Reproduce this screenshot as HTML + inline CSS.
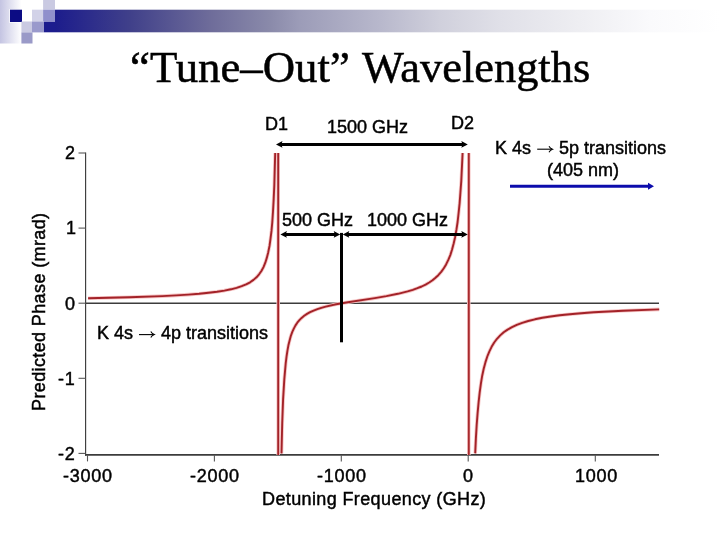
<!DOCTYPE html>
<html><head><meta charset="utf-8">
<style>
html,body{margin:0;padding:0;background:#fff;}
body{width:720px;height:540px;position:relative;overflow:hidden;font-family:"Liberation Sans",sans-serif;color:#000;}
.a{will-change:transform;position:absolute;white-space:nowrap;line-height:1;font-size:18px;-webkit-text-stroke:0.45px #000;}
.tk{letter-spacing:0.75px;}
.title{font-family:"Liberation Serif",serif;font-size:44.8px;left:129.9px;top:45px;-webkit-text-stroke:0.5px #000;}
</style></head><body>
<svg width="720" height="540" style="position:absolute;left:0;top:0">
<defs>
<linearGradient id="bar" gradientUnits="userSpaceOnUse" x1="55" x2="720" y1="0" y2="0">
<stop offset="0" stop-color="#1c1c8c"/>
<stop offset="0.113" stop-color="#40408a"/>
<stop offset="0.233" stop-color="#6e6c9a"/>
<stop offset="0.323" stop-color="#8a8aaa"/>
<stop offset="0.368" stop-color="#9c9cb8"/>
<stop offset="0.489" stop-color="#b8b8cc"/>
<stop offset="0.579" stop-color="#d0d0dc"/>
<stop offset="0.669" stop-color="#e0e0e8"/>
<stop offset="0.789" stop-color="#eeeef2"/>
<stop offset="0.895" stop-color="#fafafc"/>
<stop offset="1" stop-color="#ffffff"/>
</linearGradient>
<linearGradient id="lg" x1="0" x2="1" y1="0" y2="0">
<stop offset="0" stop-color="#c4c4e2"/>
<stop offset="1" stop-color="#ffffff"/>
</linearGradient>
</defs>
<rect x="0" y="0" width="21.5" height="43.5" fill="url(#lg)"/>
<rect x="55" y="9.7" width="665" height="22.6" fill="url(#bar)"/>
<rect x="44" y="21.5" width="11" height="10.8" fill="#1c1c8e"/>
<rect x="9" y="9" width="14" height="14" fill="#fff" opacity="0.6"/>
<rect x="10" y="9.7" width="12" height="12.3" fill="#0c0c84"/>
<rect x="43.1" y="0" width="11.9" height="9.7" fill="#cacae2"/>
<rect x="32" y="9.7" width="11.1" height="11.8" fill="#d2d2e8"/>
<rect x="43.1" y="9.7" width="11.9" height="11.8" fill="#9090cc"/>
<rect x="21.4" y="21.5" width="10.6" height="10.9" fill="#cacae2"/>
<rect x="32" y="21.5" width="12" height="10.9" fill="#9a9acc"/>
<rect x="21.4" y="32.4" width="11.1" height="11.1" fill="#9a9ac8"/>

<!-- axes -->
<g stroke="#3c3c3c" fill="none">
<line x1="85.6" y1="152.5" x2="85.6" y2="455.8" stroke-width="1.15"/>
<line x1="85" y1="454.9" x2="659" y2="454.9" stroke-width="1.8"/>
<line x1="85.6" y1="303.2" x2="659" y2="303.2" stroke-width="1.4"/>
</g>
<g stroke="#585858" stroke-width="1.1" fill="none">
<line x1="78.5" y1="153" x2="85.6" y2="153"/>
<line x1="78.5" y1="228.1" x2="85.6" y2="228.1"/>
<line x1="78.5" y1="303.2" x2="85.6" y2="303.2"/>
<line x1="78.5" y1="378.3" x2="85.6" y2="378.3"/>
<line x1="78.5" y1="453.4" x2="85.6" y2="453.4"/>
<line x1="87.5" y1="455" x2="87.5" y2="461.4"/>
<line x1="214.4" y1="455" x2="214.4" y2="461.4"/>
<line x1="341.3" y1="455" x2="341.3" y2="461.4"/>
<line x1="468.2" y1="455" x2="468.2" y2="461.4"/>
<line x1="595.3" y1="455" x2="595.3" y2="461.4"/>
</g>
<!-- curve -->
<g stroke="#f6c6c6" stroke-width="3.6" fill="none" stroke-linejoin="round">
<path d="M88.1 298.2 L129.4 297.3 L162.3 296.1 L176.1 295.4 L188.3 294.6 L199.1 293.8 L208.6 292.8 L217.0 291.8 L224.4 290.6 L230.9 289.3 L236.6 287.9 L241.7 286.2 L246.1 284.4 L250.1 282.3 L253.5 279.9 L256.5 277.3 L259.1 274.3 L261.4 271.0 L263.5 267.1 L265.3 262.7 L266.8 257.9 L268.2 252.4 L269.5 246.0 L270.5 238.9 L271.5 230.9 L272.3 222.0 L273.0 211.5 L273.7 198.9 L274.3 185.5 L275.2 153.0"/>
<path d="M281.5 453.4 L282.2 423.5 L283.1 399.1 L284.3 379.4 L285.7 363.5 L286.5 356.8 L287.4 350.8 L288.4 345.3 L289.6 340.4 L290.8 336.0 L292.2 332.1 L293.8 328.6 L295.5 325.4 L297.3 322.7 L299.4 320.2 L301.6 317.9 L304.2 315.8 L307.0 313.9 L310.1 312.2 L313.6 310.6 L317.4 309.1 L321.3 307.8 L325.7 306.6 L336.1 304.3 L348.0 302.2 L374.8 298.1 L386.4 296.1 L397.9 293.8 L407.6 291.4 L412.8 289.9 L417.4 288.2 L421.7 286.5 L425.6 284.6 L429.2 282.5 L432.5 280.3 L435.5 277.8 L438.3 275.2 L441.2 271.9 L443.8 268.3 L446.1 264.4 L448.3 259.9 L450.3 255.1 L452.0 249.7 L453.6 243.8 L455.1 237.2 L456.4 229.9 L457.6 222.0 L458.6 213.0 L459.6 203.4 L460.4 192.8 L461.3 180.6 L462.6 153.0"/>
<path d="M475.2 453.4 L475.9 438.1 L476.7 424.8 L477.6 413.1 L478.6 402.3 L479.7 392.4 L480.9 383.6 L482.2 375.7 L483.7 368.8 L485.4 362.4 L487.3 356.5 L489.4 351.3 L491.6 346.8 L494.2 342.5 L497.0 338.8 L500.2 335.4 L503.7 332.3 L507.6 329.6 L512.0 327.1 L516.8 324.8 L522.2 322.8 L528.2 321.0 L534.9 319.3 L542.4 317.8 L550.6 316.5 L559.7 315.3 L569.9 314.2 L581.2 313.2 L593.8 312.2 L623.1 310.7 L659.2 309.4"/>
<line x1="278.2" y1="153" x2="278.2" y2="455"/>
<line x1="468.8" y1="153" x2="468.8" y2="455"/>
</g>
<g stroke="#a32228" stroke-width="1.9" fill="none" stroke-linejoin="round">
<path d="M88.1 298.2 L129.4 297.3 L162.3 296.1 L176.1 295.4 L188.3 294.6 L199.1 293.8 L208.6 292.8 L217.0 291.8 L224.4 290.6 L230.9 289.3 L236.6 287.9 L241.7 286.2 L246.1 284.4 L250.1 282.3 L253.5 279.9 L256.5 277.3 L259.1 274.3 L261.4 271.0 L263.5 267.1 L265.3 262.7 L266.8 257.9 L268.2 252.4 L269.5 246.0 L270.5 238.9 L271.5 230.9 L272.3 222.0 L273.0 211.5 L273.7 198.9 L274.3 185.5 L275.2 153.0"/>
<path d="M281.5 453.4 L282.2 423.5 L283.1 399.1 L284.3 379.4 L285.7 363.5 L286.5 356.8 L287.4 350.8 L288.4 345.3 L289.6 340.4 L290.8 336.0 L292.2 332.1 L293.8 328.6 L295.5 325.4 L297.3 322.7 L299.4 320.2 L301.6 317.9 L304.2 315.8 L307.0 313.9 L310.1 312.2 L313.6 310.6 L317.4 309.1 L321.3 307.8 L325.7 306.6 L336.1 304.3 L348.0 302.2 L374.8 298.1 L386.4 296.1 L397.9 293.8 L407.6 291.4 L412.8 289.9 L417.4 288.2 L421.7 286.5 L425.6 284.6 L429.2 282.5 L432.5 280.3 L435.5 277.8 L438.3 275.2 L441.2 271.9 L443.8 268.3 L446.1 264.4 L448.3 259.9 L450.3 255.1 L452.0 249.7 L453.6 243.8 L455.1 237.2 L456.4 229.9 L457.6 222.0 L458.6 213.0 L459.6 203.4 L460.4 192.8 L461.3 180.6 L462.6 153.0"/>
<path d="M475.2 453.4 L475.9 438.1 L476.7 424.8 L477.6 413.1 L478.6 402.3 L479.7 392.4 L480.9 383.6 L482.2 375.7 L483.7 368.8 L485.4 362.4 L487.3 356.5 L489.4 351.3 L491.6 346.8 L494.2 342.5 L497.0 338.8 L500.2 335.4 L503.7 332.3 L507.6 329.6 L512.0 327.1 L516.8 324.8 L522.2 322.8 L528.2 321.0 L534.9 319.3 L542.4 317.8 L550.6 316.5 L559.7 315.3 L569.9 314.2 L581.2 313.2 L593.8 312.2 L623.1 310.7 L659.2 309.4"/>
<line x1="278.2" y1="153" x2="278.2" y2="455"/>
<line x1="468.8" y1="153" x2="468.8" y2="455" stroke="#a82a2e"/>
</g>
<!-- arrows -->
<g stroke="#000" stroke-width="3" fill="none">
<line x1="280" y1="144.4" x2="463" y2="144.4"/>
<line x1="284" y1="234.4" x2="336" y2="234.4"/>
<line x1="347" y1="234.4" x2="464" y2="234.4"/>
<line x1="341.5" y1="232.9" x2="341.5" y2="342.3"/>
</g>
<g fill="#000">
<polygon points="276,144.4 282.5,141 281.3,144.4 282.5,147.8"/>
<polygon points="467.8,144.4 461.3,141 462.5,144.4 461.3,147.8"/>
<polygon points="280.4,234.4 286.9,231 285.7,234.4 286.9,237.8"/>
<polygon points="340.2,234.4 333.7,231 334.9,234.4 333.7,237.8"/>
<polygon points="342.8,234.4 349.3,231 348.1,234.4 349.3,237.8"/>
<polygon points="467.8,234.4 461.3,231 462.5,234.4 461.3,237.8"/>
</g>
<line x1="510" y1="186.25" x2="650" y2="186.25" stroke="#0c0cac" stroke-width="2.9"/>
<polygon points="654,186.25 648,182.8 648,189.7" fill="#0c0cac"/>
<!-- text arrows -->
<g stroke="#000" stroke-width="1.1" fill="none">
<line x1="139" y1="334.6" x2="153.8" y2="334.6"/>
<path d="M150.8 331.6 Q152 333.7 154.3 334.6 Q152 335.5 150.8 337.6"/>
<line x1="537.2" y1="149.2" x2="552" y2="149.2"/>
<path d="M549 146.2 Q550.2 148.3 552.5 149.2 Q550.2 150.1 549 152.2"/>
</g>
</svg>

<div class="a title">“Tune–Out”</div>
<div class="a title" style="font-size:44.4px;left:361.7px;top:45.3px">Wavelengths</div>
<div class="a" style="left:264.8px;top:114.8px">D1</div>
<div class="a" style="left:326.6px;top:117.7px">1500 GHz</div>
<div class="a" style="left:450.9px;top:114px">D2</div>
<div class="a" style="left:495.2px;top:138.6px">K 4s</div>
<div class="a" style="left:559.1px;top:138.6px">5p transitions</div>
<div class="a" style="left:546.5px;top:160.5px">(405 nm)</div>
<div class="a" style="left:281.5px;top:211.2px">500 GHz</div>
<div class="a" style="left:367px;top:211px">1000 GHz</div>
<div class="a" style="left:96.9px;top:324px">K 4s</div>
<div class="a" style="left:161.1px;top:324px">4p transitions</div>

<div class="a" style="left:65px;top:144.2px">2</div>
<div class="a" style="left:65.8px;top:219.4px">1</div>
<div class="a" style="left:65px;top:294.5px">0</div>
<div class="a tk" style="left:58px;top:370.4px">-1</div>
<div class="a tk" style="left:58px;top:445px">-2</div>

<div class="a tk" style="left:62.9px;top:466.9px">-3000</div>
<div class="a tk" style="left:189.9px;top:466.9px">-2000</div>
<div class="a tk" style="left:316.7px;top:466.9px">-1000</div>
<div class="a" style="left:462.5px;top:466.9px">0</div>
<div class="a tk" style="left:574.8px;top:467.2px">1000</div>
<div class="a" style="left:261.6px;top:489.6px;letter-spacing:0.38px">Detuning Frequency (GHz)</div>
<div class="a" style="left:30.4px;top:411px;transform-origin:0 0;transform:rotate(-90deg);letter-spacing:0.38px">Predicted Phase (mrad)</div>
</body></html>
